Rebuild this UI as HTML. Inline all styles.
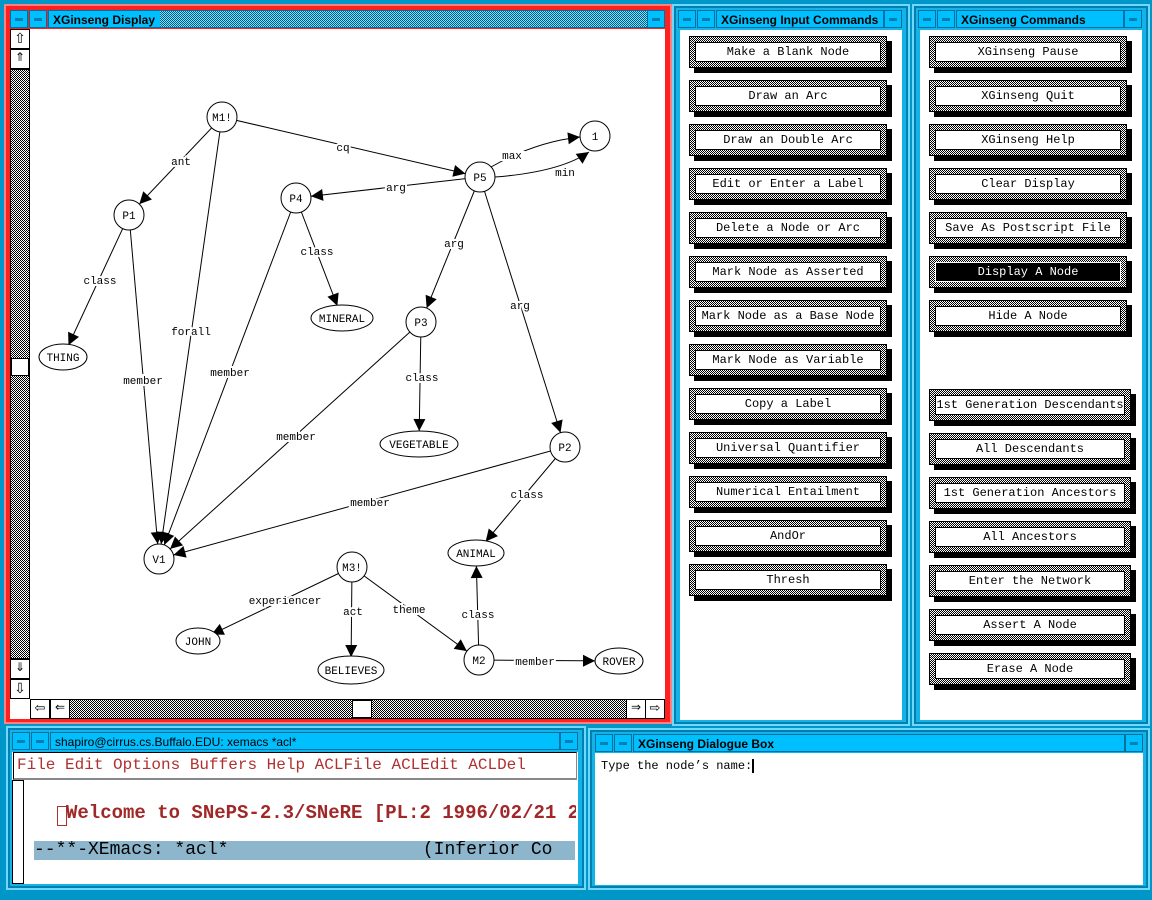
<!DOCTYPE html>
<html><head><meta charset="utf-8"><style>
*{margin:0;padding:0;box-sizing:border-box}
body{width:1152px;height:900px;background:#0096c8;position:relative;overflow:hidden;font-family:"Liberation Mono",monospace}
.abs{position:absolute}
.frame{position:absolute;background:#13b3e8;border:2px solid #6fd8ff;box-shadow:inset 0 0 0 2px #0080b0}
.title{position:absolute;height:18px;background:#00bfff;color:#000;font:bold 12px "Liberation Sans",sans-serif;line-height:18px;padding-left:4px;border:1px solid #0070a0}
.tb{position:absolute;width:18px;height:18px;background:#00bfff;border:1px solid #0070a0}
.tb::after{content:"";position:absolute;left:4px;top:7px;width:8px;height:3px;background:#0080b0}
.chk{background:repeating-conic-gradient(#000 0 25%,#fff 0 50%) 0 0/2px 2px}
.btn{position:absolute;width:198px;height:32px}
.btn .sh{position:absolute;left:5px;top:5px;width:198px;height:32px;background:#000}
.btn .o{position:absolute;left:0;top:0;width:198px;height:32px;border:1px solid #000}
.btn .i{position:absolute;left:5px;top:5px;right:5px;bottom:5px;background:#fff;border:1px solid #000;font:12px "Liberation Mono",monospace;text-align:center;line-height:19px;color:#000}
.btn.inv .i{background:#000;color:#fff;border-color:#fff}
</style></head><body>

<!-- Display window -->
<div class="abs" style="left:4px;top:4px;width:668px;height:720px;background:#ff2020;border:2px solid #ff8080"></div>
<div class="tb" style="left:10px;top:10px"></div>
<div class="tb" style="left:29px;top:10px"></div>
<div class="title" style="left:48px;top:10px;width:600px;background:#00bfff">XGinseng Display</div>
<div class="abs chk" style="left:160px;top:11px;width:487px;height:16px;background-color:#00bfff;opacity:.5"></div>
<div class="tb" style="left:647px;top:10px"></div>
<div class="abs" style="left:10px;top:29px;width:655px;height:690px;background:#fff"></div>
<div class="abs chk" style="left:10px;top:69px;width:20px;height:590px;border:1px solid #000"></div>
<div class="abs" style="left:10px;top:29px;width:20px;height:20px;background:#fff;border:1px solid #000;font:14px sans-serif;text-align:center">⇧</div>
<div class="abs" style="left:10px;top:49px;width:20px;height:20px;background:#fff;border:1px solid #000;font:12px sans-serif;text-align:center">⇑</div>
<div class="abs" style="left:11px;top:358px;width:18px;height:18px;background:#fff;border:1px solid #000"></div>
<div class="abs" style="left:10px;top:659px;width:20px;height:20px;background:#fff;border:1px solid #000;font:12px sans-serif;text-align:center">⇓</div>
<div class="abs" style="left:10px;top:679px;width:20px;height:20px;background:#fff;border:1px solid #000;font:14px sans-serif;text-align:center">⇩</div>
<div class="abs chk" style="left:30px;top:699px;width:635px;height:20px;border:1px solid #000"></div>
<div class="abs" style="left:30px;top:699px;width:20px;height:20px;background:#fff;border:1px solid #000;font:13px sans-serif;text-align:center">⇦</div>
<div class="abs" style="left:50px;top:699px;width:20px;height:20px;background:#fff;border:1px solid #000;font:12px sans-serif;text-align:center">⇐</div>
<div class="abs" style="left:352px;top:700px;width:20px;height:18px;background:#fff;border:1px solid #000"></div>
<div class="abs" style="left:626px;top:699px;width:20px;height:20px;background:#fff;border:1px solid #000;font:12px sans-serif;text-align:center">⇒</div>
<div class="abs" style="left:645px;top:699px;width:20px;height:20px;background:#fff;border:1px solid #000;font:13px sans-serif;text-align:center">⇨</div>

<svg class="abs" style="left:0;top:0" width="680" height="700" viewBox="0 0 680 700" font-family="Liberation Mono, monospace" font-size="11">
<defs>
<marker id="a15" markerUnits="userSpaceOnUse" markerWidth="40" markerHeight="20" viewBox="-30 -10 40 20" refX="0" refY="0" orient="auto" overflow="visible"><path d="M-27,-6 L-15,0 L-27,6 z"/></marker>
<marker id="a13" markerUnits="userSpaceOnUse" markerWidth="40" markerHeight="20" viewBox="-30 -10 40 20" refX="0" refY="0" orient="auto" overflow="visible"><path d="M-25,-6 L-13,0 L-25,6 z"/></marker>
<marker id="a22" markerUnits="userSpaceOnUse" markerWidth="50" markerHeight="20" viewBox="-40 -10 50 20" refX="0" refY="0" orient="auto" overflow="visible"><path d="M-36,-6 L-24,0 L-36,6 z"/></marker>
<marker id="a0" markerUnits="userSpaceOnUse" markerWidth="20" markerHeight="20" viewBox="-15 -10 20 20" refX="0" refY="0" orient="auto" overflow="visible"><path d="M-12,-6 L0,0 L-12,6 z"/></marker>
</defs>
<g stroke="#000" stroke-width="1" fill="none">
<line x1="222" y1="117" x2="129" y2="215" marker-end="url(#a15)"/>
<line x1="222" y1="117" x2="480" y2="177" marker-end="url(#a15)"/>
<line x1="222" y1="117" x2="159" y2="559" marker-end="url(#a15)"/>
<path d="M491,167 Q535,142 580,137" marker-end="url(#a0)"/>
<path d="M495,177 Q560,172 589,152" marker-end="url(#a0)"/>
<line x1="480" y1="177" x2="296" y2="198" marker-end="url(#a15)"/>
<line x1="480" y1="177" x2="421" y2="322" marker-end="url(#a15)"/>
<line x1="480" y1="177" x2="565" y2="447" marker-end="url(#a15)"/>
<line x1="296" y1="198" x2="342" y2="318" marker-end="url(#a13)"/>
<line x1="296" y1="198" x2="159" y2="559" marker-end="url(#a15)"/>
<line x1="129" y1="215" x2="63" y2="357" marker-end="url(#a13)"/>
<line x1="129" y1="215" x2="159" y2="559" marker-end="url(#a15)"/>
<line x1="421" y1="322" x2="419" y2="444" marker-end="url(#a13)"/>
<line x1="421" y1="322" x2="159" y2="559" marker-end="url(#a15)"/>
<line x1="565" y1="447" x2="159" y2="559" marker-end="url(#a15)"/>
<line x1="565" y1="447" x2="476" y2="553" marker-end="url(#a15)"/>
<line x1="352" y1="567" x2="198" y2="641" marker-end="url(#a15)"/>
<line x1="352" y1="567" x2="351" y2="670" marker-end="url(#a13)"/>
<line x1="352" y1="567" x2="479" y2="660" marker-end="url(#a15)"/>
<line x1="479" y1="660" x2="476" y2="553" marker-end="url(#a13)"/>
<line x1="479" y1="660" x2="619" y2="661" marker-end="url(#a22)"/>
</g>
<g text-anchor="middle" fill="#000" stroke="#fff" stroke-width="4" paint-order="stroke">
<text x="181" y="165">ant</text><text x="343" y="151">cq</text><text x="191" y="335">forall</text>
<text x="512" y="159">max</text><text x="565" y="176">min</text><text x="396" y="191">arg</text>
<text x="454" y="247">arg</text><text x="520" y="309">arg</text><text x="317" y="255">class</text>
<text x="230" y="376">member</text><text x="100" y="284">class</text><text x="143" y="384">member</text>
<text x="422" y="381">class</text><text x="296" y="440">member</text><text x="370" y="506">member</text>
<text x="527" y="498">class</text><text x="285" y="604">experiencer</text><text x="353" y="615">act</text>
<text x="409" y="613">theme</text><text x="478" y="618">class</text><text x="535" y="665">member</text>
</g>
<g stroke="#000" fill="#fff">
<circle cx="222" cy="117" r="15"/><circle cx="480" cy="177" r="15"/><circle cx="595" cy="136" r="15"/>
<circle cx="296" cy="198" r="15"/><circle cx="129" cy="215" r="15"/><circle cx="421" cy="322" r="15"/>
<circle cx="565" cy="447" r="15"/><circle cx="159" cy="559" r="15"/><circle cx="352" cy="567" r="15"/>
<circle cx="479" cy="660" r="15"/>
<ellipse cx="63" cy="357" rx="24" ry="13"/><ellipse cx="342" cy="318" rx="31" ry="13"/>
<ellipse cx="419" cy="444" rx="39" ry="13"/><ellipse cx="476" cy="553" rx="28" ry="13"/>
<ellipse cx="198" cy="641" rx="22" ry="13"/><ellipse cx="351" cy="670" rx="33" ry="14"/>
<ellipse cx="619" cy="661" rx="24" ry="13"/>
</g>
<g text-anchor="middle" fill="#000">
<text x="222" y="121">M1!</text><text x="480" y="181">P5</text><text x="595" y="140">1</text>
<text x="296" y="202">P4</text><text x="129" y="219">P1</text><text x="421" y="326">P3</text>
<text x="565" y="451">P2</text><text x="159" y="563">V1</text><text x="352" y="571">M3!</text>
<text x="479" y="664">M2</text><text x="63" y="361">THING</text><text x="342" y="322">MINERAL</text>
<text x="419" y="448">VEGETABLE</text><text x="476" y="557">ANIMAL</text><text x="198" y="645">JOHN</text>
<text x="351" y="674">BELIEVES</text><text x="619" y="665">ROVER</text>
</g>
</svg>

<!-- Input commands window -->
<div class="frame" style="left:672px;top:4px;width:238px;height:722px"></div>
<div class="tb" style="left:678px;top:10px"></div>
<div class="tb" style="left:697px;top:10px"></div>
<div class="title" style="left:716px;top:10px;width:168px">XGinseng Input Commands</div>
<div class="tb" style="left:884px;top:10px"></div>
<div class="abs" style="left:680px;top:30px;width:222px;height:690px;background:#fff"></div>

<!-- Commands window -->
<div class="frame" style="left:912px;top:4px;width:238px;height:722px"></div>
<div class="tb" style="left:918px;top:10px"></div>
<div class="tb" style="left:937px;top:10px"></div>
<div class="title" style="left:956px;top:10px;width:168px">XGinseng Commands</div>
<div class="tb" style="left:1124px;top:10px"></div>
<div class="abs" style="left:920px;top:30px;width:222px;height:690px;background:#fff"></div>

<div id="btns"></div>
<div class="btn" style="left:689px;top:36px"><div class="sh"></div><div class="o chk"><div class="i">Make a Blank Node</div></div></div>
<div class="btn" style="left:689px;top:80px"><div class="sh"></div><div class="o chk"><div class="i">Draw an Arc</div></div></div>
<div class="btn" style="left:689px;top:124px"><div class="sh"></div><div class="o chk"><div class="i">Draw an Double Arc</div></div></div>
<div class="btn" style="left:689px;top:168px"><div class="sh"></div><div class="o chk"><div class="i">Edit or Enter a Label</div></div></div>
<div class="btn" style="left:689px;top:212px"><div class="sh"></div><div class="o chk"><div class="i">Delete a Node or Arc</div></div></div>
<div class="btn" style="left:689px;top:256px"><div class="sh"></div><div class="o chk"><div class="i">Mark Node as Asserted</div></div></div>
<div class="btn" style="left:689px;top:300px"><div class="sh"></div><div class="o chk"><div class="i">Mark Node as a Base Node</div></div></div>
<div class="btn" style="left:689px;top:344px"><div class="sh"></div><div class="o chk"><div class="i">Mark Node as Variable</div></div></div>
<div class="btn" style="left:689px;top:388px"><div class="sh"></div><div class="o chk"><div class="i">Copy a Label</div></div></div>
<div class="btn" style="left:689px;top:432px"><div class="sh"></div><div class="o chk"><div class="i">Universal Quantifier</div></div></div>
<div class="btn" style="left:689px;top:476px"><div class="sh"></div><div class="o chk"><div class="i">Numerical Entailment</div></div></div>
<div class="btn" style="left:689px;top:520px"><div class="sh"></div><div class="o chk"><div class="i">AndOr</div></div></div>
<div class="btn" style="left:689px;top:564px"><div class="sh"></div><div class="o chk"><div class="i">Thresh</div></div></div>

<div class="btn" style="left:929px;top:36px"><div class="sh"></div><div class="o chk"><div class="i">XGinseng Pause</div></div></div>
<div class="btn" style="left:929px;top:80px"><div class="sh"></div><div class="o chk"><div class="i">XGinseng Quit</div></div></div>
<div class="btn" style="left:929px;top:124px"><div class="sh"></div><div class="o chk"><div class="i">XGinseng Help</div></div></div>
<div class="btn" style="left:929px;top:168px"><div class="sh"></div><div class="o chk"><div class="i">Clear Display</div></div></div>
<div class="btn" style="left:929px;top:212px"><div class="sh"></div><div class="o chk"><div class="i">Save As Postscript File</div></div></div>
<div class="btn inv" style="left:929px;top:256px"><div class="sh"></div><div class="o chk"><div class="i">Display A Node</div></div></div>
<div class="btn" style="left:929px;top:300px"><div class="sh"></div><div class="o chk"><div class="i">Hide A Node</div></div></div>
<div class="btn" style="left:929px;top:389px;width:202px"><div class="sh" style="width:202px"></div><div class="o chk" style="width:202px"><div class="i">1st Generation Descendants</div></div></div>
<div class="btn" style="left:929px;top:433px;width:202px"><div class="sh" style="width:202px"></div><div class="o chk" style="width:202px"><div class="i">All Descendants</div></div></div>
<div class="btn" style="left:929px;top:477px;width:202px"><div class="sh" style="width:202px"></div><div class="o chk" style="width:202px"><div class="i">1st Generation Ancestors</div></div></div>
<div class="btn" style="left:929px;top:521px;width:202px"><div class="sh" style="width:202px"></div><div class="o chk" style="width:202px"><div class="i">All Ancestors</div></div></div>
<div class="btn" style="left:929px;top:565px;width:202px"><div class="sh" style="width:202px"></div><div class="o chk" style="width:202px"><div class="i">Enter the Network</div></div></div>
<div class="btn" style="left:929px;top:609px;width:202px"><div class="sh" style="width:202px"></div><div class="o chk" style="width:202px"><div class="i">Assert A Node</div></div></div>
<div class="btn" style="left:929px;top:653px;width:202px"><div class="sh" style="width:202px"></div><div class="o chk" style="width:202px"><div class="i">Erase A Node</div></div></div>

<!-- xemacs window -->
<div class="frame" style="left:6px;top:726px;width:580px;height:164px"></div>
<div class="tb" style="left:12px;top:732px"></div>
<div class="tb" style="left:31px;top:732px"></div>
<div class="title" style="left:50px;top:732px;width:510px;font-weight:normal;font-size:12px">shapiro@cirrus.cs.Buffalo.EDU: xemacs *acl*</div>
<div class="tb" style="left:560px;top:732px"></div>
<div class="abs" style="left:12px;top:752px;width:566px;height:132px;background:#fff"></div>
<div class="abs" style="left:13px;top:752px;width:564px;height:28px;border:1px solid #000;border-right-color:#888;border-bottom:2px solid #888;background:#fff;color:#b03030;font:16px 'Liberation Mono',monospace;line-height:24px;padding-left:3px;white-space:nowrap;overflow:hidden">File Edit Options Buffers Help ACLFile ACLEdit ACLDel</div>
<div class="abs" style="left:12px;top:780px;width:12px;height:104px;border:1px solid #000;background:#fff"></div>
<div class="abs" style="left:57px;top:806px;width:10px;height:20px;border:1px solid #b03030"></div>
<div class="abs" style="left:66px;top:802px;color:#a02828;font:bold 19px 'Liberation Mono',monospace;white-space:nowrap;width:510px;overflow:hidden">Welcome to SNePS-2.3/SNeRE [PL:2 1996/02/21 2</div>
<div class="abs" style="left:34px;top:841px;width:541px;height:19px;background:#8db5cc;color:#000;font:18px 'Liberation Mono',monospace;line-height:19px;white-space:pre;overflow:hidden">--**-XEmacs: *acl*                  (Inferior Co</div>

<!-- Dialogue window -->
<div class="frame" style="left:588px;top:728px;width:562px;height:162px"></div>
<div class="tb" style="left:595px;top:734px"></div>
<div class="tb" style="left:614px;top:734px"></div>
<div class="title" style="left:633px;top:734px;width:492px">XGinseng Dialogue Box</div>
<div class="tb" style="left:1125px;top:734px"></div>
<div class="abs" style="left:595px;top:753px;width:548px;height:132px;background:#fff;font:12px 'Liberation Mono',monospace;padding:6px 0 0 6px">Type the node’s name:<span style="display:inline-block;width:2px;height:14px;background:#000;vertical-align:middle"></span></div>

</body></html>
